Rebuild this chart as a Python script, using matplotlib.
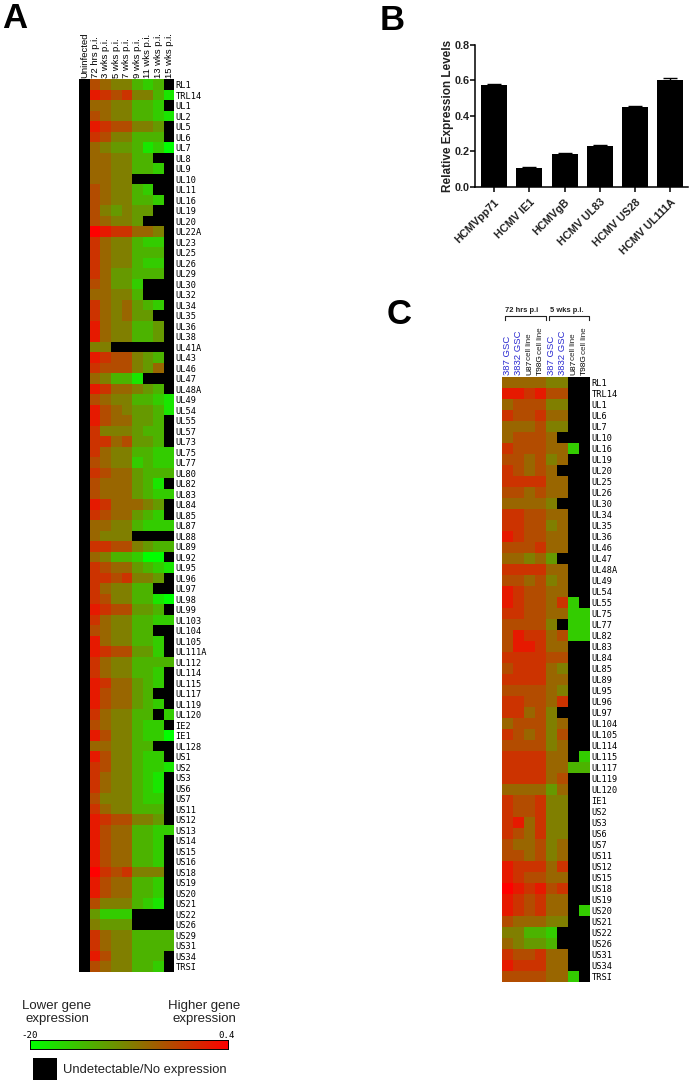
import numpy as np
import matplotlib
matplotlib.use('Agg')
import matplotlib.pyplot as plt
from matplotlib.colors import LinearSegmentedColormap

W, H = 691, 1083

# Panel A - levels are read off the picture on a 0 (green) to 10 (red) scale, x = no expression
genes_a = ['RL1', 'TRL14', 'UL1', 'UL2', 'UL5', 'UL6', 'UL7', 'UL8', 'UL9', 'UL10', 'UL11', 'UL16', 'UL19',
           'UL20', 'UL22A', 'UL23', 'UL25', 'UL26', 'UL29', 'UL30', 'UL32', 'UL34', 'UL35', 'UL36', 'UL38',
           'UL41A', 'UL43', 'UL46', 'UL47', 'UL48A', 'UL49', 'UL54', 'UL55', 'UL57', 'UL73', 'UL75', 'UL77',
           'UL80', 'UL82', 'UL83', 'UL84', 'UL85', 'UL87', 'UL88', 'UL89', 'UL92', 'UL95', 'UL96', 'UL97',
           'UL98', 'UL99', 'UL103', 'UL104', 'UL105', 'UL111A', 'UL112', 'UL114', 'UL115', 'UL117', 'UL119',
           'UL120', 'IE2', 'IE1', 'UL128', 'US1', 'US2', 'US3', 'US6', 'US7', 'US11', 'US12', 'US13', 'US14',
           'US15', 'US16', 'US18', 'US19', 'US20', 'US21', 'US22', 'US26', 'US29', 'US31', 'US34', 'TRSI']
times_a = ['Uninfected', '72 hrs p.i.', '3 wks p.i.', '5 wks p.i.', '7 wks p.i.', '9 wks p.i.',
           '11 wks p.i.', '13 wks p.i.', '15 wks p.i.']
levels_a = ['x7655323x', 'x98785531', 'x6655332x', 'x76553321', 'x9877554x', 'x8755333x', 'x65443120',
            'x665533xx', 'x6655332x', 'x6655xxxx', 'x765532xx', 'x7655332x', 'x754544xx', 'x76554xxx',
            'xa988665x', 'x8655322x', 'x8655333x', 'x8655322x', 'x8644333x', 'x76442xxx', 'x66553xxx',
            'x8656432x', 'x865644xx', 'x9655334x', 'x9655334x', 'x55xxxxxx', 'x9877543x', 'x8777546x',
            'x65331xxx', 'x9866543x', 'x76553321', 'x97654431', 'x9766443x', 'x8555433x', 'x8867443x',
            'x86553322', 'x76552322', 'x87664333', 'x7666431x', 'x76664322', 'x9866654x', 'x8766432x',
            'x66553222', 'x6555xxxx', 'x88775433', 'x6533200x', 'x87664321', 'x8878554x', 'x865533xx',
            'x87553310', 'x9877443x', 'x86553322', 'x765533xx', 'x9655332x', 'x9877442x', 'x86553333',
            'x8655332x', 'x9866432x', 'x976643xx', 'x9766432x', 'x865533x2', 'x7655322x', 'x97553220',
            'x665533xx', 'x9755322x', 'x87553221', 'x8655321x', 'x8655321x', 'x7555322x', 'x8655333x',
            'x9877554x', 'x97663322', 'x9766332x', 'x9766332x', 'x9766332x', 'xa878555x', 'x9766332x',
            'x9766332x', 'x7555321x', 'x4222xxxx', 'x5444xxxx', 'x86553333', 'x86553333', 'x9755333x',
            'x7655332x']

# Panel B
viruses = ['HCMVpp71', 'HCMV IE1', 'HCMVgB', 'HCMV UL83', 'HCMV US28', 'HCMV UL111A']
expr = [0.575, 0.105, 0.185, 0.232, 0.45, 0.605]
expr_err = [0.005, 0.006, 0.005, 0.003, 0.006, 0.009]

# Panel C
genes_c = ['RL1', 'TRL14', 'UL1', 'UL6', 'UL7', 'UL10', 'UL16', 'UL19', 'UL20', 'UL25', 'UL26', 'UL30', 'UL34',
           'UL35', 'UL36', 'UL46', 'UL47', 'UL48A', 'UL49', 'UL54', 'UL55', 'UL75', 'UL77', 'UL82', 'UL83',
           'UL84', 'UL85', 'UL89', 'UL95', 'UL96', 'UL97', 'UL104', 'UL105', 'UL114', 'UL115', 'UL117',
           'UL119', 'UL120', 'IE1', 'US2', 'US3', 'US6', 'US7', 'US11', 'US12', 'US15', 'US18', 'US19',
           'US20', 'US21', 'US22', 'US26', 'US31', 'US34', 'TRSI']
samples_c = ['387 GSC', '3832 GSC', 'U87', 'T98G', '387 GSC', '3832 GSC', 'U87', 'T98G']
levels_c = ['666655xx', '998977xx', '677755xx', '877866xx', '666755xx', '67776xxx', '8777662x', '776756xx',
            '87676xxx', '888866xx', '776766xx', '66665xxx', '887766xx', '887756xx', '987766xx', '777866xx',
            '66564xxx', '888866xx', '776756xx', '987766xx', '9877682x', '88776622', '77775x22', '79886722',
            '799866xx', '888877xx', '788865xx', '888866xx', '777765xx', '887768xx', '88675xxx', '677756xx',
            '876757xx', '777756xx', '888866x2', '88886633', '888867xx', '666646xx', '877855xx', '877855xx',
            '896855xx', '876855xx', '766756xx', '776756xx', '988868xx', '987766xx', 'a98978xx', '987866xx',
            '987866x2', '766655xx', '55332xxx', '65443xxx', '877866xx', '988866xx', '7777662x']


def parse(rows):
    return np.array([[np.nan if c == 'x' else int(c, 16) for c in r] for r in rows], dtype=float)


def px_axes(x0, y0, x1, y1):
    return fig.add_axes([x0 / W, 1 - y1 / H, (x1 - x0) / W, (y1 - y0) / H])


cmap = LinearSegmentedColormap.from_list('gr', ['#00ff00', '#ff0000']).copy()
cmap.set_bad('black')

fig = plt.figure(figsize=(W / 100, H / 100), dpi=100)
sans = ['Liberation Sans', 'DejaVu Sans']

# page overlay in pixel coordinates for the loose annotations
page = fig.add_axes([0, 0, 1, 1])
page.set_xlim(0, W)
page.set_ylim(H, 0)
page.axis('off')


def heatmap(levels, box):
    ax = px_axes(*box)
    ax.pcolormesh(np.ma.masked_invalid(parse(levels)), cmap=cmap, vmin=0, vmax=10)
    ax.invert_yaxis()
    ax.spines[:].set_visible(False)
    return ax


# A
ax = heatmap(levels_a, (79.3, 79.3, 174.3, 972))
ax.yaxis.tick_right()
ax.set_yticks(np.arange(len(genes_a)) + 0.5, genes_a, family='DejaVu Sans Mono', fontsize=6.2)
ax.xaxis.tick_top()
ax.set_xticks(np.arange(len(times_a)) + 0.5, times_a, rotation=90, family=sans, fontsize=6.8)
ax.tick_params(length=0, pad=0.8)

# B
ax = px_axes(475, 45, 688, 186.7)
ax.bar(range(len(viruses)), expr, width=0.737, color='black', yerr=expr_err,
       error_kw=dict(ecolor='black', capsize=5, elinewidth=1, capthick=1))
ax.set_xlim(-0.538, 5.496)
ax.set_ylim(0, 0.8)
ax.set_yticks([0, 0.2, 0.4, 0.6, 0.8], ['0.0', '0.2', '0.4', '0.6', '0.8'], family=sans, fontsize=7.8,
              fontweight='bold', color='#222222')
ax.set_xticks(range(len(viruses)), viruses, rotation=45, ha='right', rotation_mode='anchor', family=sans,
              fontsize=7.8, fontweight='bold', color='#222222')
ax.set_ylabel('Relative Expression Levels', family=sans, fontsize=8.5, fontweight='bold', color='#222222',
              labelpad=0.5)
ax.spines[['top', 'right']].set_visible(False)
ax.spines[['left', 'bottom']].set_linewidth(1.1)
ax.tick_params(axis='y', width=1.1, length=3.5, pad=0.5)
ax.tick_params(axis='x', width=1.1, length=3.5, pad=4)

# C
ax = heatmap(levels_c, (502.3, 376.7, 590, 982.3))
ax.yaxis.tick_right()
ax.set_yticks(np.arange(len(genes_c)) + 0.5, genes_c, family='DejaVu Sans Mono', fontsize=6.2)
ax.xaxis.tick_top()
ax.set_xticks(np.arange(len(samples_c)) + 0.5, samples_c, rotation=90, family=sans, fontsize=6.8)
for i, lab in enumerate(ax.get_xticklabels()):
    if 'GSC' in samples_c[i]:
        lab.set_color('#2a2ad0')
    else:
        lab.set_fontsize(6)
        off = 10.5 if samples_c[i] == 'U87' else 14.5
        ax.annotate('cell line', (i + 0.5, 0), xytext=(0, off + 1.5), textcoords='offset points', rotation=90,
                    ha='center', va='bottom', family=sans, fontsize=5.8, color='#222222', annotation_clip=False)
ax.tick_params(length=0, pad=1.2)

# brackets over panel C
for x0, x1, name, tx in [(505, 546, '72 hrs p.i', 505), (549, 589, '5 wks p.i.', 550)]:
    page.plot([x0, x0, x1, x1], [320, 316, 316, 320], color='#222222', lw=0.8)
    page.text(tx, 310.5, name, family=sans, fontsize=5.4, fontweight='bold', color='#222222', va='center')

# colour scale
cb = px_axes(30, 1040, 228.5, 1049)
cb.imshow(np.linspace(0, 1, 256)[None, :], cmap=cmap, aspect='auto')
cb.set_xticks([])
cb.set_yticks([])
for s in cb.spines.values():
    s.set_linewidth(0.7)
page.text(57, 1012.5, 'Lower gene\nexpression', family=sans, fontsize=9.5, ha='center', va='center',
          linespacing=1.15, color='#222222')
page.text(204, 1012.5, 'Higher gene\nexpression', family=sans, fontsize=9.5, ha='center', va='center',
          linespacing=1.15, color='#222222')
page.text(30, 1035, '-20', family='DejaVu Sans Mono', fontsize=6.6, ha='center', va='center')
page.text(227, 1035, '0.4', family='DejaVu Sans Mono', fontsize=6.6, ha='center', va='center')
page.add_patch(plt.Rectangle((33, 1058), 24, 22, color='black', lw=0))
page.text(63, 1070, 'Undetectable/No expression', family=sans, fontsize=9.4, va='center', color='#222222')

# panel letters
for letter, x, y in [('A', 2, 19), ('B', 380, 20), ('C', 387, 315)]:
    page.text(x, y, letter, family=sans, fontsize=25, fontweight='bold', va='center')

fig.savefig('out.png', dpi=100)
